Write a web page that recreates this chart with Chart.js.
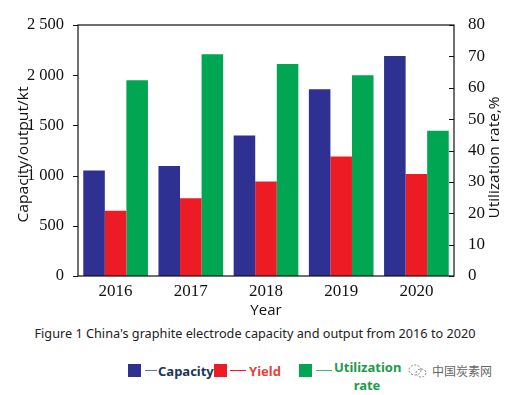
<!DOCTYPE html>
<html>
<head>
<meta charset="utf-8">
<script src="https://cdn.jsdelivr.net/npm/chart.js@4.4.0/dist/chart.umd.min.js"></script>
<style>
    body { margin: 0; background: #fff; width: 510px; height: 395px; overflow: hidden; font-family: "Noto Sans", sans-serif; position: relative; }
    #wrap { position: absolute; left: 0; top: 0; width: 510px; height: 320px; }
    #caption { position: absolute; left: 0; top: 324px; width: 510px; text-align: center; font-size: 12.7px; color: #222; white-space: nowrap; }
    .sq { position: absolute; width: 13px; height: 13px; }
    .ln { position: absolute; height: 1px; }
    .lt { position: absolute; font-weight: bold; font-size: 13px; line-height: 14px; white-space: nowrap; }
    #mark { position: absolute; left: 408px; top: 362px; font-size: 12px; color: #666; font-family: "Noto Sans CJK SC", sans-serif; white-space: nowrap; }
</style>
</head>
<body>
<div id="wrap"><canvas id="chart"></canvas></div>
<div id="caption">Figure 1 China's graphite electrode capacity and output from 2016 to 2020</div>

<div class="sq" style="left:128px;top:364px;background:#2e3192"></div>
<div class="ln" style="left:145px;top:370px;width:12px;background:#6a6fa8"></div>
<div class="lt" style="left:158px;top:364px;color:#1d3557">Capacity</div>

<div class="sq" style="left:214px;top:364px;background:#ed1c24"></div>
<div class="ln" style="left:230px;top:370px;width:16px;background:#ed1c24"></div>
<div class="lt" style="left:249px;top:364px;color:#e8413c">Yield</div>

<div class="sq" style="left:299px;top:364px;background:#00a651"></div>
<div class="ln" style="left:316px;top:370px;width:16px;background:#3dbb74"></div>
<div class="lt" style="left:334px;top:360px;color:#1e9a4c;text-align:center;width:66px">Utilization<br><span style="line-height:22px">rate</span></div>

<div id="mark">
    <svg width="20" height="14" viewBox="0 0 20 14" style="vertical-align:-2px;margin-right:4px">
        <ellipse cx="7" cy="6" rx="6" ry="5" fill="none" stroke="#888" stroke-width="1" stroke-dasharray="2 1.5"/>
        <ellipse cx="13" cy="9" rx="5" ry="4" fill="none" stroke="#888" stroke-width="1" stroke-dasharray="2 1.5"/>
    </svg>中国炭素网
</div>

<script>
// Graphite electrode capacity / output / utilization, 2016-2020
const years = ['2016', '2017', '2018', '2019', '2020'];
const capacity = [1050, 1095, 1400, 1860, 2190];      // kt
const output = [650, 775, 940, 1190, 1015];           // kt
const utilization = [62.4, 70.7, 67.6, 64.0, 46.3];   // %

const leftMax = 2500;
const leftStep = 500;
const rightMax = 80;
const rightStep = 10;
const leftTitle = 'Capacity/output/kt';
const rightTitle = 'Utilization rate,%';

const serif = 'Liberation Serif';
const sans = 'Open Sans';

function formatThousands(v) {
    if (v < 1000) return String(v);
    return Math.floor(v / 1000) + ' ' + String(v % 1000).padStart(3, '0');
}

// the source uses a narrow sans for the side titles, so squeeze them to its length
function sideTitle(ctx, text, x, y, len) {
    ctx.save();
    ctx.font = '14px "' + sans + '"';
    ctx.fillStyle = '#111';
    ctx.textAlign = 'center';
    ctx.textBaseline = 'middle';
    ctx.translate(x, y);
    ctx.rotate(-Math.PI / 2);
    ctx.scale(len / ctx.measureText(text).width, 1);
    ctx.fillText(text, 0, 0);
    ctx.restore();
}

// frame round the plot, small tick marks pointing left on both axes, titles
const framePlugin = {
    id: 'frame',
    afterDraw(chart) {
        const ctx = chart.ctx;
        const a = chart.chartArea;
        ctx.save();
        ctx.strokeStyle = '#111';
        ctx.lineWidth = 1.2;
        ctx.strokeRect(a.left, a.top, a.right - a.left, a.bottom - a.top);
        ctx.lineWidth = 1;
        ['y', 'y1'].forEach(id => {
            const scale = chart.scales[id];
            const x = id === 'y' ? a.left : a.right;
            scale.ticks.forEach(t => {
                const py = Math.round(scale.getPixelForValue(t.value)) + 0.5;
                ctx.beginPath();
                ctx.moveTo(x - 5, py);
                ctx.lineTo(x, py);
                ctx.stroke();
            });
        });
        ctx.restore();

        const mid = (a.top + a.bottom) / 2;
        sideTitle(ctx, leftTitle, chart.scales.y.left + 24, mid + 4, 136);
        sideTitle(ctx, rightTitle, chart.scales.y1.right - 15, mid + 7, 122);
    }
};

new Chart(document.getElementById('chart'), {
    type: 'bar',
    data: {
        labels: years,
        datasets: [
            { label: 'Capacity', data: capacity, backgroundColor: '#2e3192', yAxisID: 'y' },
            { label: 'Yield', data: output, backgroundColor: '#ed1c24', yAxisID: 'y' },
            { label: 'Utilization rate', data: utilization, backgroundColor: '#00a651', yAxisID: 'y1' }
        ]
    },
    options: {
        responsive: true,
        maintainAspectRatio: false,
        animation: false,
        categoryPercentage: 0.86,
        barPercentage: 1.0,
        layout: { padding: { top: 25, right: 0, bottom: 0, left: 0 } },
        plugins: {
            legend: { display: false },
            tooltip: { enabled: false }
        },
        scales: {
            x: {
                grid: { display: false },
                border: { display: false },
                ticks: { font: { family: serif, size: 17 }, color: '#111', padding: -3 },
                title: { display: true, text: 'Year', font: { family: sans, size: 15 }, color: '#111', padding: 0 },
                afterFit: s => { s.height = 44; }
            },
            y: {
                position: 'left',
                min: 0,
                max: leftMax,
                grid: { display: false },
                border: { display: false },
                ticks: {
                    stepSize: leftStep,
                    font: { family: serif, size: 16.5 },
                    color: '#111',
                    padding: 6,
                    callback: v => formatThousands(v)
                },
                afterFit: s => { s.width = 78; }
            },
            y1: {
                position: 'right',
                min: 0,
                max: rightMax,
                grid: { display: false },
                border: { display: false },
                ticks: { stepSize: rightStep, font: { family: serif, size: 17 }, color: '#111', padding: 6 },
                afterFit: s => { s.width = 56; }
            }
        }
    },
    plugins: [framePlugin]
});
</script>
</body>
</html>
